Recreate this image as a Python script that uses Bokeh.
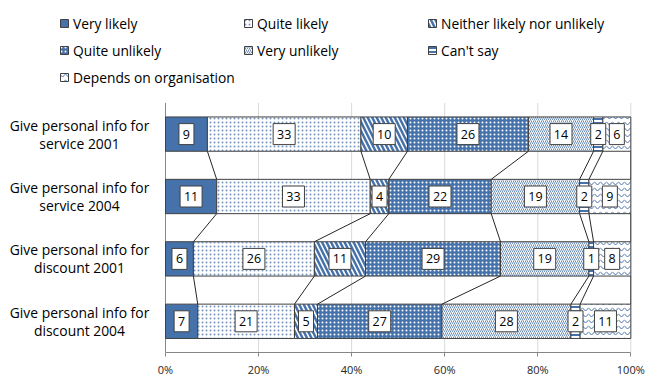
import numpy as np
from bokeh.plotting import figure
from bokeh.models import (ColumnDataSource, Range1d, Legend, LegendItem,
                          FixedTicker, CustomJSTickFormatter)
from bokeh.embed import file_html
from bokeh.resources import INLINE

rows_line1 = ["Give personal info for"] * 4
rows_line2 = ["service 2001", "service 2004", "discount 2001", "discount 2004"]
series = ["Very likely", "Quite likely", "Neither likely nor unlikely",
          "Quite unlikely", "Very unlikely", "Can't say", "Depends on organisation"]
very_likely = [9, 11, 6, 7]
quite_likely = [33, 33, 26, 21]
neither = [10, 4, 11, 5]
quite_unlikely = [26, 22, 29, 27]
very_unlikely = [14, 19, 19, 28]
cant_say = [2, 2, 1, 2]
depends = [6, 9, 8, 11]
x_ticks = [0, 20, 40, 60, 80, 100]

vals = np.array([very_likely, quite_likely, neither, quite_unlikely,
                 very_unlikely, cant_say, depends], dtype=float)  # series x rows
pct = vals / vals.sum(axis=0) * 100.0
right = np.cumsum(pct, axis=0)
left = right - pct
ys = np.arange(4)

BLUE = "#4672ab"
styles = [
    dict(fill_color=BLUE),
    dict(fill_color="white", hatch_pattern="dot", hatch_color=BLUE, hatch_scale=4, hatch_weight=0.5, hatch_alpha=0.75),
    dict(fill_color="white", hatch_pattern="left_diagonal_line", hatch_color=BLUE, hatch_scale=9, hatch_weight=2.5),
    dict(fill_color=BLUE, hatch_pattern="dot", hatch_color="white", hatch_scale=4, hatch_weight=0.5),
    dict(fill_color="white", hatch_pattern="right_diagonal_line", hatch_color=BLUE, hatch_scale=4, hatch_weight=0.8),
    dict(fill_color="white", hatch_pattern="horizontal_line", hatch_color=BLUE, hatch_scale=4, hatch_weight=2),
    dict(fill_color="white", hatch_pattern="horizontal_wave", hatch_color=BLUE, hatch_scale=6, hatch_weight=1),
]

W, H = 660, 385
BB = 33
FRAME_H = H - BB
PX0, PX100 = 165.0, 630.3          # page x of 0% and 100%
PXU = (PX100 - PX0) / 100.0         # px per percent
PITCH = 62.4                        # px per category
BAR_H = 0.55
FONT = "Open Sans"

p = figure(width=W, height=H, output_backend="svg", toolbar_location=None,
           x_range=Range1d(-PX0 / PXU, 100 + (W - PX100) / PXU),
           y_range=Range1d(3.5, 3.5 - FRAME_H / PITCH),
           min_border_left=0, min_border_right=0, min_border_top=0, min_border_bottom=BB)
p.outline_line_color = None
p.background_fill_color = "white"
p.xgrid.grid_line_color = None
p.ygrid.grid_line_color = None
p.yaxis.visible = False

# x axis restricted to 0..100
p.xaxis.bounds = (0, 100)
p.xaxis.ticker = FixedTicker(ticks=x_ticks)
p.xaxis.formatter = CustomJSTickFormatter(code="return tick + '%';")
p.xaxis.axis_line_color = "#868686"
p.xaxis.major_tick_line_color = "#868686"
p.xaxis.major_tick_out = 4
p.xaxis.major_tick_in = 0
p.xaxis.minor_tick_line_color = None
p.xaxis.major_label_text_font = FONT
p.xaxis.major_label_text_font_size = "11px"
p.xaxis.major_label_text_color = "#262626"
p.xaxis.major_label_standoff = 5

# gridlines and category axis line
gx = x_ticks[1:]
p.segment(x0=gx, x1=gx, y0=[-0.5] * len(gx), y1=[3.5] * len(gx), line_color="#d9d9d9", line_width=1)
p.segment(x0=[0], x1=[0], y0=[-0.5], y1=[3.5], line_color="#868686", line_width=1)

renderers = []
for i, name in enumerate(series):
    src = ColumnDataSource(dict(y=ys, left=left[i], right=right[i]))
    r = p.hbar(y="y", left="left", right="right", height=BAR_H, source=src,
               line_color="#404040", line_width=1, **styles[i])
    renderers.append(r)

# series lines
x0, y0, x1, y1 = [], [], [], []
for i in range(len(series)):
    for r in range(3):
        x0.append(right[i, r]); y0.append(r + BAR_H / 2)
        x1.append(right[i, r + 1]); y1.append(r + 1 - BAR_H / 2)
p.segment(x0=x0, y0=y0, x1=x1, y1=y1, line_color="#262626", line_width=1)

# data labels
lx, ly, lt, lw = [], [], [], []
for i in range(len(series)):
    for r in range(4):
        t = str(int(vals[i, r]))
        lx.append((left[i, r] + right[i, r]) / 2)
        ly.append(r)
        lt.append(t)
        lw.append(8 + 7 * len(t))
lsrc = ColumnDataSource(dict(x=lx, y=ly, t=lt, w=lw))
p.rect(x="x", y="y", width="w", height=21, width_units="screen", height_units="screen",
       source=lsrc, fill_color="white", line_color="#404040", line_width=1)
p.text(x="x", y="y", text="t", source=lsrc, text_align="center", text_baseline="middle",
       text_font={"value": FONT}, text_font_size="12.5px", text_color="black")

# category labels (two centred lines each)
csrc = ColumnDataSource(dict(x=[0] * 8, y=list(ys) * 2,
                             t=rows_line1 + rows_line2,
                             off=[-9] * 4 + [9] * 4))
p.text(x="x", y="y", text="t", source=csrc, x_offset=-86, y_offset="off",
       text_align="center", text_baseline="middle",
       text_font={"value": FONT}, text_font_size="13.9px", text_color="black")

# legend
items = [LegendItem(label=n, renderers=[r]) for n, r in zip(series, renderers)]
leg_h = 3 * 20 + 2 * 7
leg_top = 13
legend = Legend(items=items, ncols=3, orientation="horizontal",
                location=(59, FRAME_H - (leg_top + leg_h)),
                padding=0, margin=0, spacing=7, glyph_width=10, glyph_height=10,
                label_standoff=4, label_width=163, label_height=20,
                label_text_font=FONT, label_text_font_size="13.8px", label_text_color="black",
                border_line_color=None, background_fill_alpha=0)
p.add_layout(legend, "center")

open("out.html", "w").write(file_html(p, INLINE))
